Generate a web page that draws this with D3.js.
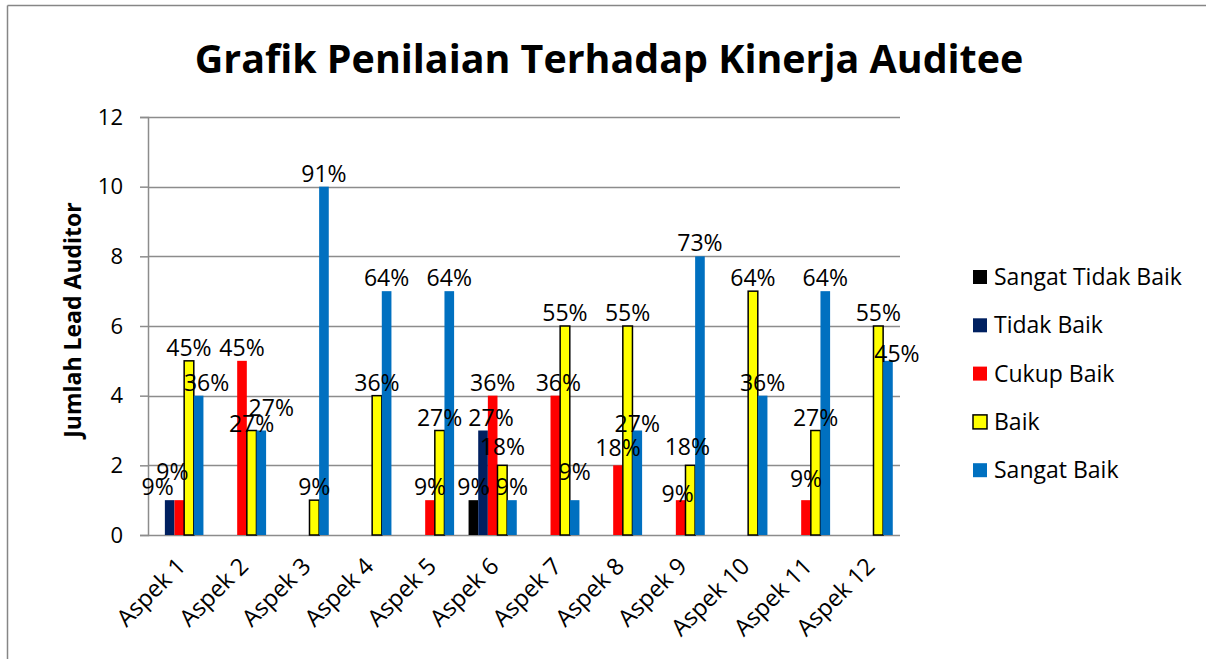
<!DOCTYPE html>
<html>
<head>
<meta charset="utf-8">
<script src="https://cdn.jsdelivr.net/npm/d3@7"></script>
<style>
  body { margin: 0; background: #fff; }
  svg { display: block; font-family: "Open Sans", "Noto Sans", sans-serif; }
</style>
</head>
<body>
<div id="chart"></div>
<script>
// chart data
var categories = ["Aspek 1","Aspek 2","Aspek 3","Aspek 4","Aspek 5","Aspek 6","Aspek 7","Aspek 8","Aspek 9","Aspek 10","Aspek 11","Aspek 12"];
var seriesNames = ["Sangat Tidak Baik","Tidak Baik","Cukup Baik","Baik","Sangat Baik"];
var sangatTidakBaik = [0,0,0,0,0,1,0,0,0,0,0,0];
var tidakBaik       = [1,0,0,0,0,3,0,0,0,0,0,0];
var cukupBaik       = [1,5,0,0,1,4,4,2,1,0,1,0];
var baik            = [5,3,1,4,3,2,6,6,2,7,3,6];
var sangatBaik      = [4,3,10,7,7,1,1,3,8,4,7,5];
var pctLabels = [
    ["","","","","","9%","","","","","",""],
    ["9%","","","","","27%","","","","","",""],
    ["9%","45%","","","9%","36%","36%","18%","9%","","9%",""],
    ["45%","27%","9%","36%","27%","18%","55%","55%","18%","64%","27%","55%"],
    ["36%","27%","91%","64%","64%","9%","9%","27%","73%","36%","64%","45%"]
];
var yTicks = [0,2,4,6,8,10,12];
var colors = ["#000000","#002060","#FF0000","#FFFF00","#0070C0"];

var series = [sangatTidakBaik, tidakBaik, cukupBaik, baik, sangatBaik];

// label nudges (series index, category index) -> [dx, dy], the way the original spread overlapping labels
var labelNudge = {
    "1-0": [-12, 0], "2-0": [-7, -15], "4-0": [8, 0],
    "3-1": [0, 6], "4-1": [10, -10],
    "1-5": [8, 0], "3-5": [0, -5],
    "2-6": [3, 0], "4-6": [0, -15],
    "2-7": [0, -4], "4-7": [0, 6],
    "2-8": [-3, 7], "3-8": [-3, -5],
    "2-10": [0, -8],
    "4-11": [9, 6]
};

var W = 1206, H = 659;
var plot = {left: 148, right: 900, top: 117, bottom: 535};

var svg = d3.select("#chart").append("svg")
    .attr("width", W)
    .attr("height", H);

// outer frame (only top and left edges visible)
svg.append("line").attr("x1", 7.5).attr("y1", 5.5).attr("x2", W).attr("y2", 5.5)
    .style("stroke", "#868686").style("stroke-width", 1.5);
svg.append("line").attr("x1", 7.5).attr("y1", 5.5).attr("x2", 7.5).attr("y2", H)
    .style("stroke", "#868686").style("stroke-width", 1.5);

// title, fitted to width
var title = svg.append("text")
    .attr("x", 609)
    .attr("y", 73)
    .attr("text-anchor", "middle")
    .style("font-weight", "bold")
    .style("font-size", "44px")
    .text("Grafik Penilaian Terhadap Kinerja Auditee");
var tw = title.node().getComputedTextLength();
title.style("font-size", (44 * 829 / tw) + "px");

var x0 = d3.scaleBand()
    .domain(categories)
    .range([plot.left, plot.right])
    .paddingInner(0)
    .paddingOuter(0);

var bw = x0.bandwidth() / 6.5;
var x1 = d3.scaleBand()
    .domain(d3.range(series.length))
    .range([0, bw * series.length]);

var y = d3.scaleLinear()
    .domain([0, 12])
    .range([plot.bottom, plot.top]);

// gridlines
svg.append("g").selectAll("line")
    .data(yTicks.slice(1))
    .enter().append("line")
    .attr("x1", plot.left)
    .attr("x2", plot.right)
    .attr("y1", function(d){ return Math.round(y(d)) + 0.5; })
    .attr("y2", function(d){ return Math.round(y(d)) + 0.5; })
    .style("stroke", "#8c8c8c")
    .style("stroke-width", 1.5);

// y axis
var yAxis = d3.axisLeft(y).tickValues(yTicks).tickSize(8).tickPadding(17);
var yg = svg.append("g")
    .attr("transform", "translate(" + plot.left + ",0)")
    .call(yAxis);
yg.select(".domain").style("stroke", "#8c8c8c").style("stroke-width", 1.5);
yg.selectAll(".tick line").style("stroke", "#8c8c8c").style("stroke-width", 1.5);
yg.selectAll(".tick text")
    .style("font-size", "22px")
    .style("font-family", "'Open Sans', sans-serif")
    .style("fill", "#000");

// x axis baseline
svg.append("line")
    .attr("x1", plot.left).attr("x2", plot.right)
    .attr("y1", y(0) + 0.5).attr("y2", y(0) + 0.5)
    .style("stroke", "#8c8c8c").style("stroke-width", 1.5);

// y axis title
svg.append("text")
    .attr("transform", "translate(81,320) rotate(-90)")
    .attr("text-anchor", "middle")
    .style("font-weight", "bold")
    .style("font-size", "23px")
    .text("Jumlah Lead Auditor");

// x labels
svg.append("g").selectAll("text")
    .data(categories)
    .enter().append("text")
    .attr("transform", function(d){
        return "translate(" + (x0(d) + x0.bandwidth() / 2 - 4) + "," + (plot.bottom + 21) + ") rotate(-45)";
    })
    .attr("text-anchor", "end")
    .attr("dy", "0.7em")
    .style("font-size", "23.5px")
    .text(function(d){ return d; });

// bars
var groupOffset = (x0.bandwidth() - bw * series.length) / 2;
series.forEach(function(vals, sIdx){
    var g = svg.append("g").attr("class", "bars_" + sIdx);
    vals.forEach(function(v, i){
        if (v <= 0) return;
        var bx = x0(categories[i]) + groupOffset + x1(sIdx);
        g.append("rect")
            .attr("x", bx)
            .attr("y", y(v))
            .attr("width", x1.bandwidth())
            .attr("height", y(0) - y(v))
            .style("fill", colors[sIdx])
            .style("stroke", sIdx === 3 ? "#000" : "none")
            .style("stroke-width", sIdx === 3 ? 1.5 : 0);
    });
});

// data labels
series.forEach(function(vals, sIdx){
    var g = svg.append("g").attr("class", "labels_" + sIdx);
    vals.forEach(function(v, i){
        if (v <= 0) return;
        var nudge = labelNudge[sIdx + "-" + i] || [0, 0];
        var bx = x0(categories[i]) + groupOffset + x1(sIdx) + x1.bandwidth() / 2;
        g.append("text")
            .attr("x", bx + nudge[0])
            .attr("y", y(v) - 5 + nudge[1])
            .attr("text-anchor", "middle")
            .style("font-size", "23px")
            .text(pctLabels[sIdx][i]);
    });
});

// legend
var legend = svg.append("g").attr("transform", "translate(973,277)");
seriesNames.forEach(function(name, i){
    var row = legend.append("g").attr("transform", "translate(0," + (i * 48.3) + ")");
    row.append("rect")
        .attr("x", 0).attr("y", -7)
        .attr("width", 14).attr("height", 14)
        .style("fill", colors[i])
        .style("stroke", i === 3 ? "#000" : "none")
        .style("stroke-width", i === 3 ? 1.5 : 0);
    row.append("text")
        .attr("x", 21)
        .attr("y", 0)
        .attr("dy", "0.35em")
        .style("font-size", "23px")
        .text(name);
});
</script>
</body>
</html>
